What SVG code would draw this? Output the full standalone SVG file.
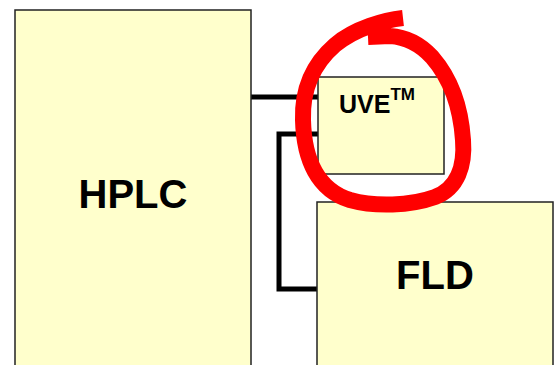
<svg xmlns="http://www.w3.org/2000/svg" width="560" height="365" viewBox="0 0 560 365">
<style>
.box{fill:#FFFFCC;stroke:#222;stroke-width:1.5}
.lbl{font-family:"Liberation Sans",Arial,sans-serif;font-weight:bold;fill:#000}
.conn{fill:none;stroke:#000;stroke-width:5;stroke-linejoin:miter}
</style>
<rect width="560" height="365" fill="#fff"/>
<g id="connectors">
<path class="conn" d="M251,97 H318"/>
<path class="conn" d="M318,134 H279 V289 H317"/>
</g>
<g id="hplc">
<rect class="box" x="15" y="10" width="236" height="370"/>
<text class="lbl" x="133" y="208" font-size="40" text-anchor="middle">HPLC</text>
</g>
<g id="uve">
<rect class="box" x="318" y="77" width="126" height="97"/>
<text class="lbl" x="339" y="113" font-size="25">UVE<tspan font-size="17" dy="-13">TM</tspan></text>
</g>
<g id="fld">
<rect class="box" x="317" y="202" width="236" height="180"/>
<text class="lbl" x="435" y="289" font-size="40" text-anchor="middle">FLD</text>
</g>
<path id="circle" fill="none" stroke="#FF0000" stroke-width="16" stroke-linejoin="round" d="M403,18 C385,20 355,28 335,45 C312,65 302,90 303,120 C304,160 318,190 350,200 C375,207 410,206 435,197 C458,188 465,165 463,140 C461,110 452,80 432,57 C420,44 405,37 390,36 L368,37"/>
</svg>
